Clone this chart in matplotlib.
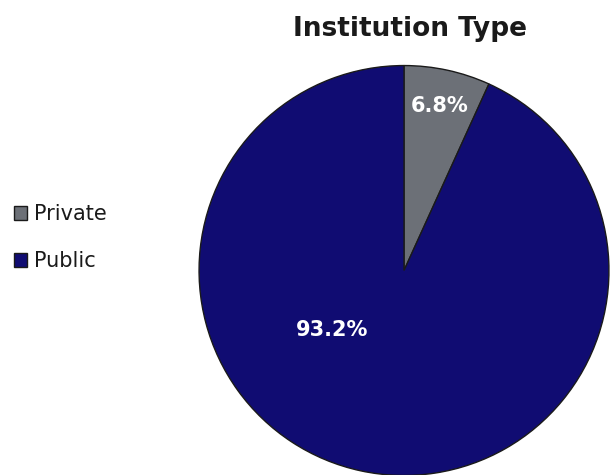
import matplotlib
matplotlib.use('Agg')
from matplotlib import pyplot as plt

tipos = ['Private', 'Public']
valores = [6.8, 93.2]
cores = ['#6c7077', '#100c72']

plt.rcParams['font.family'] = ['DejaVu Sans']

fig = plt.figure(figsize=(6.1, 4.75), dpi=100)
r = 207
ax = fig.add_axes([(404 - r) / 610, (475 - 270.5 - r) / 475, 2 * r / 610, 2 * r / 475])

fatias, textos, pcts = ax.pie(valores, colors=cores, startangle=90, counterclock=False,
                              autopct='%1.1f%%', pctdistance=0.82,
                              wedgeprops={'edgecolor': '#1a1a1a', 'linewidth': 1.0},
                              textprops={'color': 'white', 'fontsize': 15, 'fontweight': 'bold'})
pcts[1].set_position((-0.35, -0.29))
ax.set_aspect('equal')
ax.set_xlim(-1.01, 1.01)
ax.set_ylim(-1.01, 1.01)

fig.text(0.672, 0.94, 'Institution Type', ha='center', va='center',
         fontsize=19, fontweight='bold', color='#1a1a1a')

fig.legend(fatias, tipos, loc='center left', bbox_to_anchor=(-0.008, 0.5),
           frameon=False, fontsize=15, handlelength=0.65, handleheight=0.65,
           handletextpad=0.3, labelspacing=1.3, labelcolor='#1a1a1a')

plt.savefig('out.png', dpi=100)
